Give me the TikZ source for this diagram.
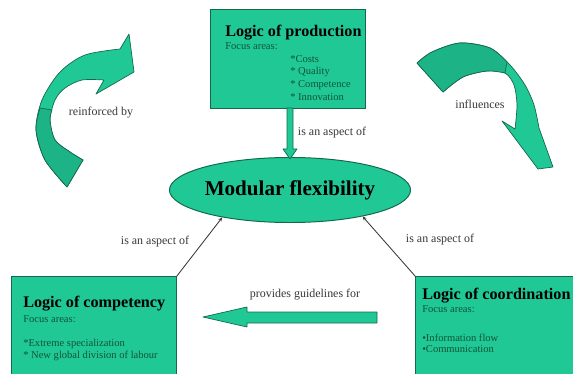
\documentclass[tikz,border=0pt]{standalone}
\usepackage{fontspec}
\setmainfont{Liberation Serif}
\usetikzlibrary{shapes.geometric, arrows.meta}

\definecolor{boxgreen}{RGB}{32,200,150}
\definecolor{backgreen}{RGB}{28,180,134}
\definecolor{edgegreen}{RGB}{20,105,75}
\definecolor{textgreen}{RGB}{15,85,55}
\definecolor{lblgray}{RGB}{55,55,55}

\tikzset{
  box/.style={draw=edgegreen, fill=boxgreen, line width=0.7pt, inner sep=0pt},
  titletext/.style={anchor=base west, inner sep=0pt, font=\fontsize{11.5}{13}\selectfont\bfseries},
  smalltext/.style={anchor=base west, inner sep=0pt, text=textgreen, font=\fontsize{7.5}{9}\selectfont},
  lbl/.style={inner sep=0pt, text=lblgray, font=\fontsize{8.5}{10}\selectfont},
  blockarrow/.style={draw=edgegreen, fill=boxgreen, line width=0.5pt, line join=round},
  aspect/.style={draw=lblgray, line width=0.6pt, -{Stealth[length=3pt, width=2.5pt]}}
}

\begin{document}
\begin{tikzpicture}[x=0.025cm, y=-0.025cm]
\useasboundingbox (0,0) rectangle (573,374);

% curved arrows
\filldraw[blockarrow] plot[smooth] coordinates {(67,187) (45,160) (36,130) (42,100) (60,72) (85,55) (120,49)}
  -- (129,34) -- (134,72) -- (96,94)
  -- plot[smooth] coordinates {(104,80) (82,80) (65,88) (55,100) (50,120) (55,140) (70,152) (83,160)} -- cycle;
\filldraw[blockarrow, fill=backgreen] plot[smooth] coordinates {(67,187) (45,160) (36,130) (40,108)}
  -- plot[smooth] coordinates {(52,110) (50,120) (55,140) (70,152) (83,160)} -- cycle;

\filldraw[blockarrow] plot[smooth] coordinates {(417,63) (432,52) (460,43) (490,48) (510,65) (525,85) (534,105) (539,128)}
  -- (553,167) -- (538,169) -- (502,121)
  -- plot[smooth] coordinates {(515,129) (517,105) (514,85) (505,73) (487,71) (463,77) (443,92)} -- cycle;
\filldraw[blockarrow, fill=backgreen] plot[smooth] coordinates {(417,63) (432,52) (460,43) (490,48) (507,62)}
  -- plot[smooth] coordinates {(505,73) (487,71) (463,77) (443,92)} -- cycle;

\node[lbl] (reinf) at (101,113) {reinforced by};
\node[lbl] (infl) at (480,104) {influences};

% boxes
\node[box, minimum width=3.85cm, minimum height=2.45cm] (prod) at (288,59) {};
\node[box, minimum width=4.1cm, minimum height=2.55cm] (comp) at (94,328) {};
\node[box, minimum width=4.05cm, minimum height=2.55cm] (coord) at (497,328) {};

\node[titletext] (prodtitle) at (225,37) {Logic of production};
\node[smalltext] (prodfocus) at (225,50) {Focus areas:};
\node[smalltext] (prodcost) at (290,63) {*Costs};
\node[smalltext] (prodqual) at (290,75) {* Quality};
\node[smalltext] (prodcomp) at (290,88) {* Competence};
\node[smalltext] (prodinno) at (290,101) {* Innovation};

\node[titletext] (comptitle) at (23,307) {Logic of competency};
\node[smalltext] (compfocus) at (23,322) {Focus areas:};
\node[smalltext] (compspec) at (23,346) {*Extreme specialization};
\node[smalltext] (compdiv) at (23,358) {* New global division of labour};

\node[titletext] (coordtitle) at (422,299) {Logic of coordination};
\node[smalltext] (coordfocus) at (422,312) {Focus areas:};
\node[smalltext] (coordinfo) at (422,341) {\textbullet Information flow};
\node[smalltext] (coordcomm) at (422,352) {\textbullet Communication};

% centre
\node[draw=edgegreen, fill=boxgreen, line width=0.7pt, ellipse, inner sep=0pt,
      minimum width=5.425cm, minimum height=1.625cm,
      font=\fontsize{15}{17}\selectfont\bfseries] (modflex) at (290,190) {Modular flexibility};

\filldraw[blockarrow] (287,108) -- (293,108) -- (293,149) -- (297,149) -- (290,159) -- (283,149) -- (287,149) -- cycle;
\node[lbl] (aspecttop) at (332,133) {is an aspect of};

\draw[aspect] (comp.north east) -- (modflex.202);
\draw[aspect] (coord.north west) -- (modflex.340);
\node[lbl] (aspectleft) at (155,242) {is an aspect of};
\node[lbl] (aspectright) at (440,240) {is an aspect of};

\filldraw[blockarrow] (377,312) -- (247,312) -- (247,307) -- (203,317) -- (247,327) -- (247,323) -- (377,323) -- cycle;
\node[lbl] (guide) at (305,295) {provides guidelines for};
\end{tikzpicture}
\end{document}
